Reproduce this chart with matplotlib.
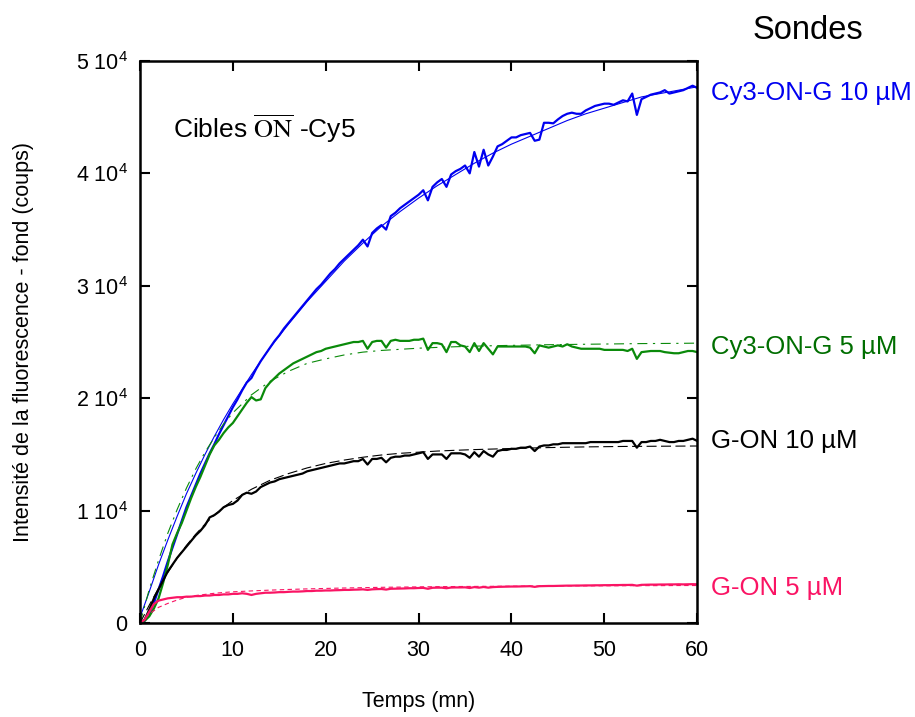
import numpy as np
import matplotlib
matplotlib.use("Agg")
import matplotlib.pyplot as plt
from matplotlib.transforms import blended_transform_factory

plt.rcParams['font.family'] = ['Liberation Sans', 'DejaVu Sans']
plt.rcParams['mathtext.fontset'] = 'custom'
plt.rcParams['mathtext.rm'] = 'Liberation Sans'
plt.rcParams['mathtext.it'] = 'Liberation Sans:italic'

# temps des mesures (mn), une mesure toutes les 30 s
temps = np.arange(0, 60.01, 0.5)

# intensites mesurees (milliers de coups)
cy3_10 = [0.0, 0.2, 0.8, 1.8, 3.0, 4.2, 5.5, 6.7, 7.9, 9.1,
          10.3, 11.3, 12.3, 13.3, 14.2, 15.1, 15.9, 16.8, 17.6, 18.4,
          19.2, 19.9, 20.7, 21.4, 21.8, 22.6, 23.3, 23.9, 24.5, 25.1,
          25.6, 26.2, 26.7, 27.2, 27.7, 28.2, 28.7, 29.2, 29.7, 30.1,
          30.6, 31.1, 31.5, 32.0, 32.4, 32.8, 33.2, 33.6, 34.1, 33.5,
          34.7, 35.1, 35.4, 35.0, 36.2, 36.5, 36.9, 37.2, 37.5, 37.8,
          38.1, 38.5, 37.6, 38.8, 39.2, 39.5, 38.8, 39.9, 40.2, 40.4,
          40.7, 40.0, 41.9, 40.6, 42.1, 40.7, 41.5, 42.4, 42.6, 42.9,
          43.2, 43.2, 43.4, 43.5, 43.6, 42.9, 43.0, 44.5, 44.5, 44.45,
          44.8, 45.1, 45.3, 45.4, 45.3, 45.3, 45.6, 45.8, 46.0, 46.1,
          46.2, 46.2, 46.1, 46.3, 46.5, 46.4, 47.1, 45.2, 46.6, 46.8,
          47.0, 47.1, 47.2, 47.4, 47.1, 47.2, 47.3, 47.4, 47.6, 47.8,
          47.6]
cy3_5 = [0.0, 0.2, 0.6, 1.3, 2.2, 3.6, 5.2, 7.0, 8.0, 8.9,
         10.0, 11.1, 12.1, 13.0, 14.0, 15.0, 15.8, 16.3, 16.9, 17.4,
         17.8, 18.4, 19.0, 19.6, 20.1, 19.8, 19.9, 20.9, 21.4, 21.8,
         22.2, 22.5, 22.8, 23.1, 23.3, 23.5, 23.7, 23.9, 24.1, 24.2,
         24.4, 24.5, 24.6, 24.7, 24.8, 24.9, 25.0, 25.0, 25.1, 24.4,
         25.0, 25.1, 25.1, 24.5, 25.1, 25.2, 25.1, 25.1, 25.1, 25.2,
         25.2, 25.3, 24.3, 24.9, 24.9, 24.8, 24.1, 25.0, 25.0, 24.7,
         24.6, 24.1, 24.9, 24.2, 24.9, 24.4, 23.9, 24.6, 24.6, 24.6,
         24.6, 24.6, 24.6, 24.6, 24.5, 24.0, 24.7, 24.6, 24.5, 24.6,
         24.7, 24.6, 24.8, 24.6, 24.5, 24.4, 24.4, 24.4, 24.4, 24.4,
         24.3, 24.3, 24.3, 24.3, 24.3, 24.2, 24.4, 23.5, 24.1, 24.15,
         24.2, 24.2, 24.2, 24.1, 24.05, 24.0, 24.0, 24.1, 24.2, 24.2,
         24.1]
gon_10 = [0.0, 0.3, 1.2, 2.2, 3.0, 3.8, 4.6, 5.2, 5.8, 6.3,
          6.8, 7.3, 7.8, 8.2, 8.7, 9.4, 9.6, 9.9, 10.3, 10.5,
          10.6, 10.9, 11.4, 11.6, 11.5, 11.7, 12.1, 12.3, 12.5, 12.6,
          12.8, 12.9, 13.0, 13.1, 13.2, 13.3, 13.5, 13.6, 13.7, 13.8,
          13.9, 14.0, 14.1, 14.2, 14.2, 14.3, 14.4, 14.4, 14.6, 14.1,
          14.6, 14.6, 14.7, 14.3, 14.7, 14.8, 14.8, 14.9, 14.9, 15.0,
          15.1, 15.2, 14.6, 15.0, 15.0, 15.0, 14.6, 15.1, 15.1, 15.1,
          15.0, 14.7, 15.2, 14.8, 15.3, 15.0, 14.8, 15.3, 15.4, 15.4,
          15.5, 15.5, 15.6, 15.6, 15.7, 15.3, 15.7, 15.8, 15.8, 15.9,
          15.9, 16.0, 16.0, 16.0, 16.0, 16.0, 16.0, 16.1, 16.1, 16.1,
          16.1, 16.1, 16.1, 16.1, 16.2, 16.2, 16.2, 15.6, 16.1, 16.1,
          16.2, 16.2, 16.3, 16.2, 16.1, 16.1, 16.2, 16.2, 16.3, 16.4,
          16.2]
gon_5 = [0.0, 0.3, 1.0, 1.7, 2.0, 2.1, 2.2, 2.25, 2.3, 2.3,
         2.35, 2.35, 2.4, 2.4, 2.45, 2.45, 2.5, 2.5, 2.55, 2.55,
         2.6, 2.6, 2.65, 2.6, 2.5, 2.6, 2.65, 2.7, 2.7, 2.72,
         2.75, 2.75, 2.78, 2.8, 2.8, 2.82, 2.85, 2.85, 2.88, 2.88,
         2.9, 2.9, 2.92, 2.93, 2.95, 2.95, 2.97, 2.98, 3.0, 2.95,
         3.0, 3.02, 3.03, 2.98, 3.05, 3.06, 3.07, 3.08, 3.1, 3.1,
         3.12, 3.13, 3.05, 3.14, 3.15, 3.15, 3.1, 3.16, 3.17, 3.17,
         3.18, 3.12, 3.2, 3.15, 3.21, 3.15, 3.2, 3.22, 3.23, 3.24,
         3.25, 3.25, 3.26, 3.27, 3.28, 3.22, 3.28, 3.29, 3.3, 3.3,
         3.31, 3.32, 3.33, 3.33, 3.34, 3.34, 3.35, 3.35, 3.36, 3.36,
         3.37, 3.37, 3.38, 3.38, 3.39, 3.39, 3.4, 3.33, 3.4, 3.41,
         3.42, 3.42, 3.43, 3.43, 3.44, 3.44, 3.45, 3.44, 3.45, 3.46,
         3.45]

# courbes d'ajustement (milliers de coups)
temps_fit = [0, 1, 2, 3, 4, 5, 6, 7, 8, 9, 10, 12, 14, 16, 18, 20, 22, 24,
             26, 28, 30, 32, 34, 36, 38, 40, 42, 44, 46, 48, 50, 52, 54, 56, 58, 60]
fit_cy3_10 = [0.5, 2.8, 5.2, 7.4, 9.5, 11.5, 13.3, 15.0, 16.6, 18.1, 19.5, 22.1,
              24.5, 26.6, 28.6, 30.4, 32.2, 33.8, 35.3, 36.6, 37.8, 38.9, 39.9,
              40.9, 41.8, 42.6, 43.3, 44.0, 44.7, 45.3, 45.8, 46.3, 46.8, 47.1,
              47.4, 47.7]
fit_cy3_5 = [0.0, 3.0, 5.6, 8.0, 10.1, 12.0, 13.7, 15.2, 16.5, 17.7, 18.7, 20.3,
             21.5, 22.4, 23.1, 23.5, 23.85, 24.1, 24.25, 24.35, 24.45, 24.52,
             24.58, 24.63, 24.67, 24.7, 24.73, 24.76, 24.78, 24.8, 24.82, 24.84,
             24.86, 24.87, 24.88, 24.9]
fit_gon_10 = [0.0, 1.6, 3.1, 4.5, 5.8, 6.9, 7.9, 8.8, 9.6, 10.3, 10.9, 11.9, 12.7,
              13.3, 13.8, 14.2, 14.5, 14.75, 14.95, 15.1, 15.2, 15.3, 15.37,
              15.43, 15.48, 15.53, 15.57, 15.61, 15.64, 15.67, 15.69, 15.71,
              15.72, 15.73, 15.74, 15.75]
fit_gon_5 = [0.0, 0.8, 1.4, 1.75, 2.05, 2.3, 2.45, 2.55, 2.65, 2.72, 2.78, 2.86,
             2.93, 2.99, 3.04, 3.08, 3.12, 3.15, 3.18, 3.2, 3.22, 3.24, 3.25,
             3.26, 3.27, 3.28, 3.29, 3.3, 3.31, 3.31, 3.32, 3.32, 3.33, 3.33,
             3.34, 3.34]

noms = ['Cy3-ON-G 10 µM', 'Cy3-ON-G 5 µM', 'G-ON 10 µM', 'G-ON 5 µM']
pos_noms = [47.15, 24.55, 16.2, 3.1]
couleurs = ['#0000f0', '#0a8a0a', '#000000', '#fa1464']
couleurs_noms = ['#0000f0', '#006e00', '#000000', '#fa1464']
styles_fit = [(0, ()), (0, (9, 5, 2, 5)), (0, (9, 4)), (0, (4, 3))]

fig = plt.figure(figsize=(9.15, 7.17), dpi=100)
ax = fig.add_axes([0.153, 0.131, 0.609, 0.784])

mesures = [cy3_10, cy3_5, gon_10, gon_5]
fits = [fit_cy3_10, fit_cy3_5, fit_gon_10, fit_gon_5]
for m, f, c, ls in zip(mesures, fits, couleurs, styles_fit):
    ax.plot(temps, np.array(m) * 1000, color=c, lw=1.6)
    ax.plot(temps_fit, np.array(f) * 1000, color=c, lw=0.8, linestyle=ls)

ax.set_xlim(0, 60)
ax.set_ylim(0, 50000)
ax.set_xticks(range(0, 61, 10))
ax.set_yticks(range(0, 50001, 10000))
ax.set_yticklabels(['0'] + [r'%d $10^{4}$' % i for i in range(1, 6)])
ax.tick_params(direction='in', length=7, width=1.5, labelsize=15.5,
               top=True, right=True)
ax.tick_params(axis='y', pad=9)
ax.tick_params(axis='x', pad=12)
for s in ax.spines.values():
    s.set_linewidth(1.8)

ax.set_xlabel('Temps (mn)', fontsize=15.5, labelpad=22)
ax.set_ylabel('Intensité de la fluorescence - fond (coups)', fontsize=15.5,
              labelpad=30)

# noms des sondes a droite du cadre
tr = blended_transform_factory(ax.transAxes, ax.transData)
for nom, y, c in zip(noms, pos_noms, couleurs_noms):
    ax.text(1.025, y * 1000, nom, color=c, fontsize=18.5, va='center',
            ha='left', transform=tr, clip_on=False)
fig.text(0.883, 0.958, 'Sondes', fontsize=23.5, ha='center', va='center')

ax.text(3.5, 44000, r'Cibles $\overline{\mathrm{ON}}$ -Cy5', fontsize=19,
        va='center', ha='left', math_fontfamily='stix')

fig.savefig('out.png', dpi=100)
